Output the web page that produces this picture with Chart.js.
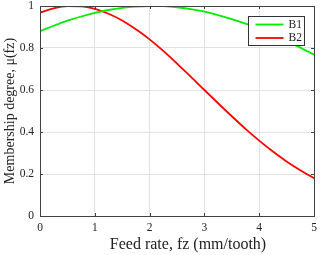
<!DOCTYPE html>
<html>
<head>
<meta charset="utf-8">
<script src="https://cdn.jsdelivr.net/npm/chart.js@4/dist/chart.umd.min.js"></script>
<style>
  html, body { margin: 0; padding: 0; background: #fff; }
  #wrap { width: 320px; height: 255px; }
</style>
</head>
<body>
<div id="wrap"><canvas id="fuzzyChart" width="320" height="255"></canvas></div>
<script>
// feed rate samples (mm/tooth)
var feedRate = [0, 0.25, 0.5, 0.75, 1, 1.25, 1.5, 1.75, 2, 2.25, 2.5, 2.75, 3, 3.25, 3.5, 3.75, 4, 4.25, 4.5, 4.75, 5];
// membership values
var b1Values = [0.880, 0.906, 0.930, 0.950, 0.967, 0.981, 0.991, 0.997, 1.000, 0.999, 0.994, 0.985, 0.973, 0.957, 0.938, 0.916, 0.891, 0.864, 0.834, 0.802, 0.768];
var b2Values = [0.969, 0.989, 0.999, 0.998, 0.986, 0.963, 0.931, 0.889, 0.841, 0.786, 0.726, 0.664, 0.600, 0.537, 0.475, 0.415, 0.359, 0.307, 0.260, 0.218, 0.180];
var seriesNames = ['B1', 'B2'];
var xTicks = [0, 1, 2, 3, 4, 5];
var yTicks = [0, 0.2, 0.4, 0.6, 0.8, 1];
var xTitle = 'Feed rate, fz (mm/tooth)';
var yTitle = 'Membership degree, μ(fz)';

var serif = '"Liberation Serif", "DejaVu Serif", serif';
var axisColor = '#404040';

function pairs(xs, ys) {
	return xs.map(function (x, i) { return { x: x, y: ys[i] }; });
}

// box, inward ticks, x label and legend, drawn the MATLAB way
var axesBox = {
	id: 'axesBox',
	afterDatasetsDraw: function (chart) {
		var ctx = chart.ctx, a = chart.chartArea;
		var sx = chart.scales.x, sy = chart.scales.y;
		ctx.save();
		ctx.strokeStyle = axisColor;
		ctx.lineWidth = 1;
		ctx.beginPath();
		xTicks.forEach(function (v) {
			var px = Math.round(sx.getPixelForValue(v)) + 0.5;
			ctx.moveTo(px, a.bottom); ctx.lineTo(px, a.bottom - 3);
			ctx.moveTo(px, a.top); ctx.lineTo(px, a.top + 3);
		});
		yTicks.forEach(function (v) {
			var py = Math.round(sy.getPixelForValue(v)) + 0.5;
			ctx.moveTo(a.left, py); ctx.lineTo(a.left + 3, py);
			ctx.moveTo(a.right, py); ctx.lineTo(a.right - 3, py);
		});
		ctx.stroke();
		ctx.strokeRect(Math.round(a.left) + 0.5, Math.round(a.top) + 0.5, Math.round(a.right - a.left), Math.round(a.bottom - a.top));

		// x label (sits a little right of centre in the original)
		ctx.fillStyle = '#222';
		ctx.font = '16px ' + serif;
		ctx.textAlign = 'center';
		ctx.textBaseline = 'middle';
		ctx.fillText(xTitle, (a.left + a.right) / 2 + 11, 245);

		// legend
		var lx = 248.5, ly = 16.5, lw = 56, lh = 29;
		ctx.fillStyle = '#fff';
		ctx.fillRect(lx, ly, lw, lh);
		ctx.strokeStyle = '#333';
		ctx.strokeRect(lx, ly, lw, lh);
		ctx.font = '11.5px ' + serif;
		ctx.textAlign = 'left';
		chart.data.datasets.forEach(function (ds, i) {
			var yy = ly + 8 + i * 13.5;
			ctx.strokeStyle = ds.borderColor;
			ctx.lineWidth = 1.8;
			ctx.beginPath();
			ctx.moveTo(lx + 7, yy); ctx.lineTo(lx + 35, yy);
			ctx.stroke();
			ctx.fillStyle = '#222';
			ctx.fillText(ds.label, lx + 40, yy);
		});
		ctx.restore();
	}
};

var ctx = document.getElementById('fuzzyChart').getContext('2d');
var chart = new Chart(ctx, {
	type: 'scatter',
	data: {
		datasets: [
			{ label: seriesNames[0], data: pairs(feedRate, b1Values), showLine: true, borderColor: '#00ee00', borderWidth: 1.8, pointRadius: 0, tension: 0.4, cubicInterpolationMode: 'monotone' },
			{ label: seriesNames[1], data: pairs(feedRate, b2Values), showLine: true, borderColor: '#ff0000', borderWidth: 1.8, pointRadius: 0, tension: 0.4, cubicInterpolationMode: 'monotone' }
		]
	},
	options: {
		responsive: false,
		animation: false,
		layout: { padding: 0 },
		plugins: { legend: { display: false }, tooltip: { enabled: false } },
		scales: {
			x: {
				type: 'linear', min: 0, max: 5,
				afterBuildTicks: function (s) { s.ticks = xTicks.map(function (v) { return { value: v }; }); },
				afterFit: function (s) { s.height = 39; s.paddingLeft = 0; s.paddingRight = 6; },
				grid: { color: '#e2e2e2', drawTicks: false },
				border: { display: false },
				ticks: { color: '#222', font: { family: serif, size: 11.5 }, padding: 5, maxRotation: 0, callback: function (v) { return String(v); } }
			},
			y: {
				type: 'linear', min: 0, max: 1,
				afterBuildTicks: function (s) { s.ticks = yTicks.map(function (v) { return { value: v }; }); },
				afterFit: function (s) { s.width = 40; s.paddingTop = 6; s.paddingBottom = 0; },
				grid: { color: '#e2e2e2', drawTicks: false },
				border: { display: false },
				ticks: { color: '#222', font: { family: serif, size: 11.5 }, padding: 6, callback: function (v) { return String(v); } },
				title: { display: true, text: yTitle, color: '#222', font: { family: serif, size: 14 }, padding: { top: 2, bottom: 0 } }
			}
		}
	},
	plugins: [axesBox]
});
</script>
</body>
</html>
